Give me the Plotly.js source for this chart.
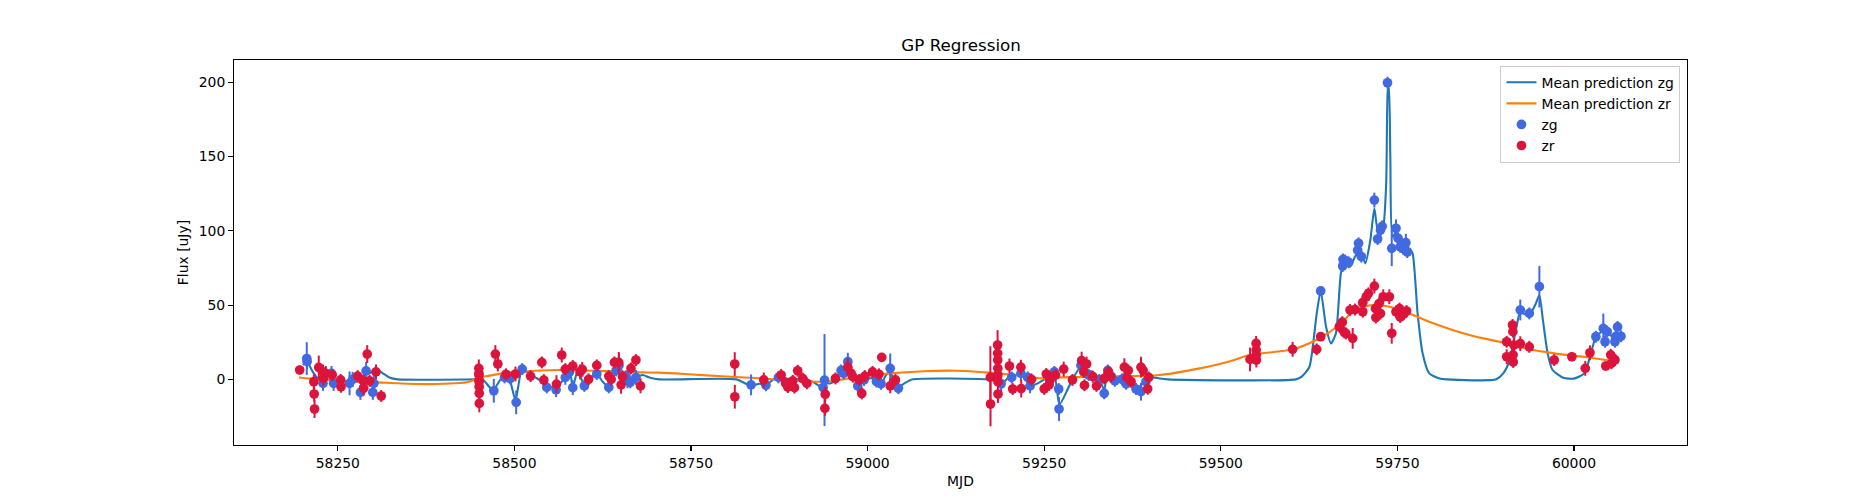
<!DOCTYPE html>
<html>
<head>
<meta charset="utf-8">
<script src="https://cdn.plot.ly/plotly-3.0.1.min.js"></script>
<style>html,body{margin:0;padding:0;background:#fff;}#chart{width:1875px;height:500px;}</style>
</head>
<body>
<div id="chart"></div>
<script>
// ---- observed zg (blue) points ----
const zgMJD = [58206,58206.5,58229,58241,58244,58266.6,58271,58282,58290,58299.5,58301,
  58470.8,58486,58494,58502.5,58511,58545.8,58559,58572,58578,58582.6,58599,58616.6,58633.6,58644,58648,58658,58660,58664,58672,
  58835,58856,58873.8,58937,58939,58962.5,58966,58972,58986,58995,59012,59012.5,59019,59032,59043.6,
  59189,59204,59217,59226.6,59230,59264.4,59270.5,59271,59302,59313,59328,59335,59340,59345,59350,59360,59366,59380,59387,59394,
  59641.4,59672.5,59673,59676,59681,59693.7,59695,59699,59717.4,59722,59726,59728.5,59736,59742,59748,59751,59754,59758,59762,59764,
  59924,59936.7,59951,60031,60041.5,60044,60047,60058,60059,60061.7,60066.5];
const zgFlux = [14,12,-2.7,4,-2.7,-2.7,0,-8.8,5.7,-8.8,-2.7,
  -7.7,1.3,0.6,-15.5,6.9,-5.4,-7,1.3,5,-5.6,-4.4,3.6,-5.4,6,9.4,2,-1,-2,1.3,
  -3.7,-4,1.3,-5.5,-0.5,6,4,11.9,-4.4,-0.4,1.8,-1.5,-3,7.4,-6,
  -3,1.3,4,1.3,-4.4,5,-6.5,-20,9.4,2.9,-0.4,-9.4,6,2,-1,0,-3,-6.5,-8.3,-1.5,
  59.5,76.3,80.8,80,78.8,87,91.6,82.6,120.7,94.5,100.5,103,199.7,88.2,101.7,95,89.3,88,92,85.7,
  46.7,44.4,62.4,28.7,34.3,25.3,32.1,25.3,28.7,35.3,29];
const zgErr = [11,5,5,5,5,8,5,5,6,5,5,
  8,4,4,8,4,4,5,5,4,5,4,4,4,4,8,4,5,4,5,
  7,4,4,5,31,4,4,6,4,4,4,4,4,10,4,
  5,4,5,4,5,4,4,8,4,4,4,4,4,4,4,4,4,4,6,4,
  3,4,4,4,4,4,4,4,5,4,4,4,4,12,6,4,4,4,6,4,
  7,4,14,4,10,4,4,4,4,4,4];

// ---- observed zr (red) points ----
const zrMJD = [58196,58216,58216.5,58217,58223,58229,58229.5,58233,58242,58254,58254.5,58278,58286,58286.5,58291.6,58295,58304,58311.4,
  58449.6,58449.7,58449.8,58449.9,58450,58450.1,58450.2,58450.3,58473,58476.5,58488,58501.5,58522.8,58538.8,58541.6,58559.5,58567,58572,58582.6,58593,58596,58605,58616.6,58633.6,58637,58641.6,58647.7,58651,58653,58665,58672,58678.5,
  58811.9,58812,58853,58877.6,58883.7,58887,58894,58896.5,58901,58908,58914,58940,58939.5,58954.5,58972,58976.7,58979,58988,58991.7,58996,59007,59016,59020,59032,59039.4,
  59173.8,59174,59184,59184.1,59184.2,59184.3,59184.4,59184.5,59184.6,59200.8,59205.4,59217,59217.5,59232,59250,59253,59257,59258,59266,59277.6,59290,59303,59306,59307,59310,59318.7,59324,59335,59341,59344,59363.5,59367,59369,59373,59387,59390,59396.5,59398,
  59541.4,59550,59550.1,59550.2,59550.3,59601.7,59635.7,59641.4,59667.8,59672,59674.8,59677,59683,59686.7,59690,59700.8,59701,59706,59709,59717.4,59719,59719.5,59724,59726,59730,59738.6,59742,59748,59753,59754,59759,59763,
  59904.7,59904.8,59913,59913.5,59913.8,59914,59915,59924,59936.7,59972,59997,60016,60022.6,60045,60052,60053,60056,60058];
const zrFlux = [6.3,-1.6,-9.9,-20,8,5,0.7,4,2.9,-0.4,-5,2.2,-1,-6,17,-1,5,-11.2,
  7.4,4,2.9,-0.5,-1.6,-5,-9.4,-16.2,17,10.3,3.4,3.6,2.2,11.4,-0.5,-3.2,16.4,6.9,9,5,6.7,0,9.4,2.2,0,11.4,11.4,-3.7,1.8,7.4,13,-4.4,
  10.3,-11.7,-0.4,2.9,-2.5,-5.2,-1,-5.6,5.8,0.6,-2.7,-10,-19.5,0.6,8.2,4,1.8,-0.4,-9.5,2.2,5,3.4,14.8,-4.4,-0.4,
  1.3,-16.6,23.1,17.5,13,7.4,2.9,-1.6,-9.9,9,-6.5,8.2,-6.2,0,-6.4,3.6,-3.7,-1,2.9,6.9,-0.4,12.6,5,-4,10.3,1.8,-4.4,0.6,5,1.8,8.2,1.3,6,-1.6,8.2,6,-6.4,1.3,
  13.4,24.2,19.7,16.4,13,20.2,20.2,28.7,35.4,38.5,31.7,30.9,46.7,27.6,47,51.6,45.5,55.6,57.9,62.8,47.6,41.6,51,44.3,55.6,55.6,31,45.5,47.6,42,44,46,
  25.3,15.2,36.6,32.1,16.5,11.7,23,24,21.9,13,15.2,7.4,17.9,9,16.5,10.8,14,13];
const zrErr = [3,5,5,6,8,5,5,5,4,4,4,4,4,5,6,4,5,4,
  6,6,6,6,6,6,6,6,6,5,4,5,4,4,4,6,5,4,4,5,5,4,4,4,4,4,7,6,4,4,4,5,
  8,8,5,4,4,4,4,4,4,4,4,5,5,4,6,4,4,4,4,4,4,4,3,5,4,
  21,15,10,8,6,5,5,5,6,5,4,5,6,4,4,4,4,4,4,5,4,6,4,4,5,4,4,4,4,4,6,4,4,4,7,4,4,4,
  8,5,5,5,5,5,4,3,4,4,4,4,4,7,4,4,4,5,4,5,4,4,4,4,5,5,7,4,4,4,4,4,
  4,5,4,4,4,4,5,5,4,4,3,5,5,3,4,4,4,4];

// ---- GP mean prediction zg ----
const gpZgMJD = [58200.5,58206,58214.6,58224,58233,58243,58254,58266,58278,58288,58295,58304.4,58313.7,58323,58335,58445,58455,58469.4,58483.5,58491.6,58501.5,58511,58523.7,58535.5,58545.8,58559,58571,58578,58582.6,58589.7,58599,58608.7,58616.6,58625,58633.6,58641.6,58648.7,58655.8,58663,58672,58681.7,58691,58705,
  58814,58828,58835,58847,58856,58865.7,58873.8,58884,58903,58922,58931.8,58939,58948,58954.5,58962.5,58972,58979,58986,58993,59002,59012,59019.6,59026,59032,59038,59043.6,59052,59064,
  59170,59182,59189,59198.3,59205,59214.6,59222,59230,59240.7,59253,59264.4,59271.6,59285.6,59300,59309,59318.7,59328,59335,59340,59347,59356.6,59366,59373.5,59380.5,59387.6,59394.7,59403.6,59413,59425,
  59606,59615,59625.5,59635.7,59641.4,59649,59656,59663,59670,59674.8,59683,59690,59697.7,59704.6,59711.7,59717.4,59722.5,59728.7,59734,59736.5,59738,59740,59743,59748,59757.4,59767,59771.5,59778.6,59785.7,59795,59810,59820,
  59890,59899.8,59909,59918.6,59924,59930,59936.7,59946,59951,59956,59962.7,59969.7,59985,60000,60014.6,60024,60031,60040,60050,60058,60066];
const gpZgFlux = [9.6,12,5,-0.4,0,-1,-1,-1,1.3,2.9,4,7,4,1.3,0,0,0,-7.2,1.8,1.8,-14,6.9,2.9,-0.4,-5,-5,0.6,6,-5,6,-4,1.8,3.6,-1.6,-5,2.9,8.5,1.8,-1,1.3,2.9,1.3,0,
  0,-3,-4.4,-3,-4,-0.4,1.3,0.6,0,-1.6,-4.4,-2.7,-2.7,-0.4,6,10.5,4,-3.7,-1.6,0.6,0,-2.7,2.9,5,-1.6,-5,-2.7,0,
  0,-1,-3,0.6,2.2,3.6,1.3,-4.4,-2.7,0.6,1.8,-17,-4.4,7.4,6,5,0,-7,5,2.9,-0.4,-2.7,1.3,-6.4,-3.7,-1.5,1.3,0.6,0,
  0,2,8.5,44,59.5,35.4,24.2,31,71.4,79,75.8,82.6,87,78.1,93.8,115,100.5,100.5,130,195,197,150,96,99,90.4,88,84.8,44.4,17.5,4,0.5,0,
  0,4,13,35.4,45.5,44,43.3,51,56.8,40,17.5,6.3,1,0.5,4,17.5,28.7,32,30,28.7,30];

// ---- GP mean prediction zr ----
const gpZrMJD = [58195,58248,58318.5,58380,58436,58450,58465,58488,58502.5,58559,58600,58677,58705,58760,58846.8,58936,58980,59031,59080,59125,59172,59220,59243,59271,59350,59413,59470,59512,59541,59601.7,59635,59668,59686.7,59715,59738.6,59767,59795,59851.8,59904.7,59936.7,59972,59997,60016,60050];
const gpZrFlux = [1.3,-1,-2.3,-3.2,-1.6,1.3,2.5,4.5,5,6.3,6,4.7,4.5,3,0.7,-1.6,1,4,5.5,5.8,4.5,2.2,0.7,1.3,2,2.9,7.4,12,16.4,20.2,26.5,36.6,45.5,50,48.9,44.4,38.8,29.8,24.2,20.2,17.5,16,15,12.6];

const xTicks = [58250,58500,58750,59000,59250,59500,59750,60000];
const yTicks = [0,50,100,150,200];

const FONT = 'DejaVu Sans, Liberation Sans, sans-serif';

const traces = [
  {x: gpZgMJD, y: gpZgFlux, type: 'scatter', mode: 'lines', name: 'Mean prediction zg', legendrank: 1,
   line: {color: '#1f77b4', width: 2.1, shape: 'spline', smoothing: 0.6}},
  {x: gpZrMJD, y: gpZrFlux, type: 'scatter', mode: 'lines', name: 'Mean prediction zr', legendrank: 2,
   line: {color: '#ff7f0e', width: 2.1, shape: 'spline', smoothing: 0.8}},
  {x: zgMJD, y: zgFlux, type: 'scatter', mode: 'markers', name: 'zg', legendrank: 3,
   marker: {color: '#4169e1', size: 9.7},
   error_y: {type: 'data', array: zgErr, visible: true, color: '#4169e1', thickness: 2, width: 0}},
  {x: zrMJD, y: zrFlux, type: 'scatter', mode: 'markers', name: 'zr', legendrank: 4,
   marker: {color: '#dc143c', size: 9.7},
   error_y: {type: 'data', array: zrErr, visible: true, color: '#dc143c', thickness: 2, width: 0}}
];

const axisCommon = {
  showgrid: false, zeroline: false, showline: true, mirror: true,
  linecolor: '#000', linewidth: 1.1, ticks: 'outside', ticklen: 4.9, tickwidth: 1.1,
  tickcolor: '#000', tickfont: {family: FONT, size: 13.9, color: '#000'}
};

const layout = {
  width: 1875, height: 500,
  margin: {l: 234.4, r: 187.5, t: 60, b: 55},
  paper_bgcolor: '#fff', plot_bgcolor: '#fff',
  font: {family: FONT, size: 13.9, color: '#000'},
  title: {text: 'GP Regression', font: {family: FONT, size: 16.7, color: '#000'},
          x: 0.5126, xanchor: 'center', y: 0.909, yanchor: 'middle', xref: 'container', yref: 'container'},
  xaxis: Object.assign({}, axisCommon, {
    range: [58103, 60160], tickmode: 'array', tickvals: xTicks, ticktext: xTicks.map(String),
    title: {text: 'MJD', font: {family: FONT, size: 13.9, color: '#000'}, standoff: 6}
  }),
  yaxis: Object.assign({}, axisCommon, {
    range: [-44.2, 215], tickmode: 'array', tickvals: yTicks, ticktext: yTicks.map(String),
    title: {text: 'Flux [uJy]', font: {family: FONT, size: 13.9, color: '#000'}, standoff: 6}
  }),
  showlegend: true,
  legend: {x: 0.9955, xanchor: 'right', y: 0.985, yanchor: 'top', traceorder: 'normal',
           bgcolor: 'rgba(255,255,255,0.8)', bordercolor: '#cccccc', borderwidth: 1,
           font: {family: FONT, size: 13.9, color: '#000'}, itemwidth: 30, tracegroupgap: 0}
};

Plotly.newPlot('chart', traces, layout, {displayModeBar: false, staticPlot: true});
</script>
</body>
</html>
